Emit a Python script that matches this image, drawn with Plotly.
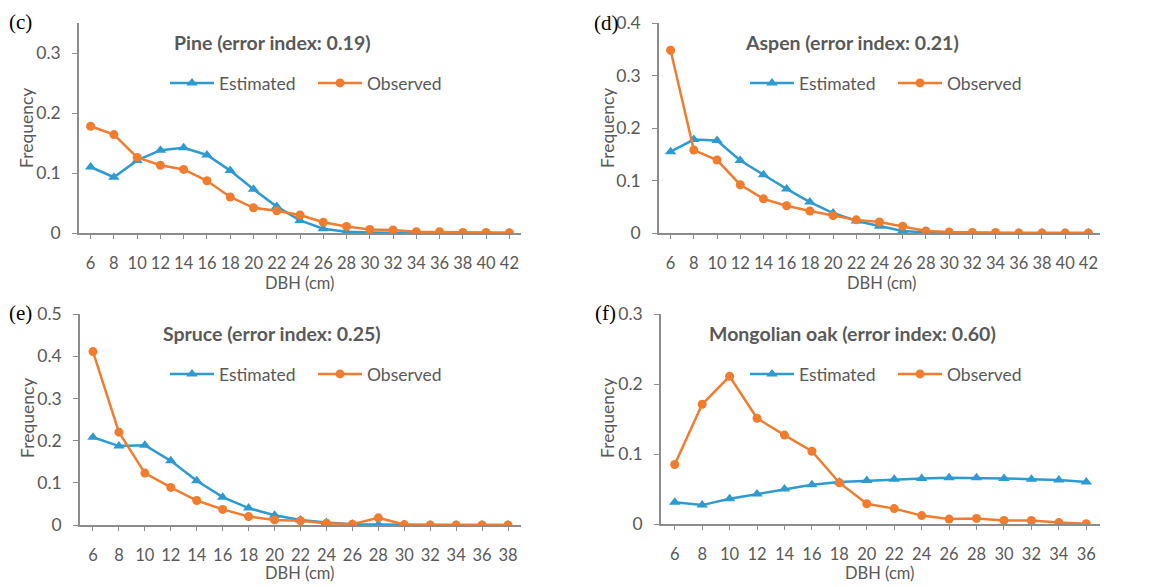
import plotly.graph_objects as go

W, H = 1164, 587

# ---------------- data ----------------
dbh_pine = ["6","8","10","12","14","16","18","20","22","24","26","28","30","32","34","36","38","40","42"]
pine_est = [0.110,0.093,0.121,0.138,0.142,0.130,0.104,0.073,0.044,0.021,0.007,0.002,0.001,0,0,0,0,0,0]
pine_obs = [0.178,0.164,0.126,0.113,0.106,0.087,0.060,0.042,0.037,0.030,0.018,0.011,0.006,0.005,0.002,0.002,0.001,0.001,0.0005]

dbh_aspen = ["6","8","10","12","14","16","18","20","22","24","26","28","30","32","34","36","38","40","42"]
aspen_est = [0.155,0.178,0.176,0.138,0.111,0.084,0.059,0.038,0.023,0.013,0.004,0.001,0,0,0,0,0,0,0]
aspen_obs = [0.348,0.158,0.139,0.092,0.065,0.052,0.042,0.033,0.025,0.021,0.013,0.004,0.002,0.001,0.001,0,0,0,0]

dbh_spruce = ["6","8","10","12","14","16","18","20","22","24","26","28","30","32","34","36","38"]
spruce_est = [0.208,0.187,0.189,0.152,0.105,0.066,0.040,0.023,0.012,0.006,0.002,0.001,0,0,0,0,0]
spruce_obs = [0.411,0.220,0.123,0.089,0.058,0.037,0.020,0.012,0.010,0.004,0.002,0.017,0.001,0,0,0,0]

dbh_oak = ["6","8","10","12","14","16","18","20","22","24","26","28","30","32","34","36"]
oak_est = [0.031,0.027,0.036,0.043,0.050,0.056,0.060,0.062,0.064,0.065,0.066,0.066,0.065,0.064,0.063,0.060]
oak_obs = [0.085,0.171,0.211,0.151,0.127,0.104,0.059,0.029,0.022,0.012,0.007,0.008,0.005,0.005,0.002,0.0005]

titles = ["Pine (error index: 0.19)", "Aspen (error index: 0.21)",
          "Spruce (error index: 0.25)", "Mongolian oak (error index: 0.60)"]
panel_labels = ["(c)", "(d)", "(e)", "(f)"]
x_title = "DBH (cm)"
y_title = "Frequency"
y_max = [0.35, 0.4, 0.5, 0.3]

BLUE = "#2E9AD2"
ORANGE = "#F07D2F"
AXC = "#8C8C8C"
TXT = "#595959"
FONT = "Lato"

panels = [
    (dbh_pine, pine_est, pine_obs),
    (dbh_aspen, aspen_est, aspen_obs),
    (dbh_spruce, spruce_est, spruce_obs),
    (dbh_oak, oak_est, oak_obs),
]

# pixel boxes: (left, right, top, bottom)
boxes = [(79, 521, 23, 233), (659, 1100, 23, 233), (80, 521, 314, 525), (661, 1100, 314, 524)]
title_pos = [(272, 42), (852, 42), (272, 333), (852, 333)]
legend_y = [83, 83, 374, 374]
legend_x = [313, 893, 313, 893]
label_pos = [(21, 22), (606, 23), (21, 313), (605, 313)]
ytitle_pos = [(27, 128), (608, 128), (27, 418), (607, 418)]
xtitle_pos = [(300, 283), (882, 283), (300, 573), (880, 573)]

def px(x):
    return x / W

def py(y):
    return 1 - y / H

fig = go.Figure()
layout = dict(
    width=W, height=H, margin=dict(l=0, r=0, t=0, b=0, autoexpand=False),
    paper_bgcolor="white", plot_bgcolor="white",
    font=dict(family=FONT, color=TXT, size=15),
    annotations=[],
)

for i, (cats, est, obs) in enumerate(panels):
    k = "" if i == 0 else str(i + 1)
    lg = "legend" if i == 0 else f"legend{i+1}"
    fig.add_trace(go.Scatter(
        x=cats, y=est, name="Estimated", mode="lines+markers",
        line=dict(color=BLUE, width=2.5),
        marker=dict(symbol="triangle-up", size=10, color=BLUE),
        xaxis="x" + k, yaxis="y" + k, legend=lg,
    ))
    fig.add_trace(go.Scatter(
        x=cats, y=obs, name="Observed", mode="lines+markers",
        line=dict(color=ORANGE, width=2.5),
        marker=dict(symbol="circle", size=9, color=ORANGE),
        xaxis="x" + k, yaxis="y" + k, legend=lg,
    ))
    l, r, t, b = boxes[i]
    layout["xaxis" + k] = dict(
        domain=[px(l), px(r)], anchor="y" + k, type="category",
        range=[-0.5, len(cats) - 0.5], automargin=False,
        showline=True, linecolor=AXC, linewidth=1.5,
        ticks="outside", ticklen=4, tickcolor=AXC, tickwidth=1,
        showgrid=False, zeroline=False,
        tickfont=dict(size=16.5, color=TXT, family=FONT),
        ticklabelstandoff=10,
    )
    layout["yaxis" + k] = dict(
        domain=[py(b), py(t)], anchor="x" + k,
        range=[0, y_max[i]], dtick=0.1, automargin=False,
        showline=True, linecolor=AXC, linewidth=1.5,
        ticks="outside", ticklen=5, tickcolor=AXC, tickwidth=1,
        showgrid=False, zeroline=False,
        tickfont=dict(size=17.5, color=TXT, family=FONT),
        ticklabelstandoff=8,
    )
    layout[lg] = dict(
        orientation="h", x=px(legend_x[i]), xanchor="center",
        y=py(legend_y[i]), yanchor="middle",
        font=dict(size=17.5, color=TXT, family=FONT),
        bgcolor="rgba(0,0,0,0)", itemwidth=44, tracegroupgap=0,
        entrywidth=89, entrywidthmode="pixels",
    )
    tx, ty = title_pos[i]
    layout["annotations"].append(dict(
        text="<b>" + titles[i] + "</b>", x=px(tx), y=py(ty), xref="paper", yref="paper",
        xanchor="center", yanchor="middle", showarrow=False,
        font=dict(size=19.5, color=TXT, family=FONT),
    ))
    lx, ly = label_pos[i]
    layout["annotations"].append(dict(
        text=panel_labels[i], x=px(lx), y=py(ly), xref="paper", yref="paper",
        xanchor="center", yanchor="middle", showarrow=False,
        font=dict(size=21, color="black", family="Liberation Serif"),
    ))
    ax_, ay_ = ytitle_pos[i]
    layout["annotations"].append(dict(
        text=y_title, x=px(ax_), y=py(ay_), xref="paper", yref="paper",
        xanchor="center", yanchor="middle", showarrow=False, textangle=-90,
        font=dict(size=17.5, color=TXT, family=FONT),
    ))
    bx, by = xtitle_pos[i]
    layout["annotations"].append(dict(
        text=x_title, x=px(bx), y=py(by), xref="paper", yref="paper",
        xanchor="center", yanchor="middle", showarrow=False,
        font=dict(size=16.5, color=TXT, family=FONT),
    ))

fig.update_layout(**layout)
fig.write_html("out.html", config={"displayModeBar": False},
               post_script="document.body.style.margin='0';")
